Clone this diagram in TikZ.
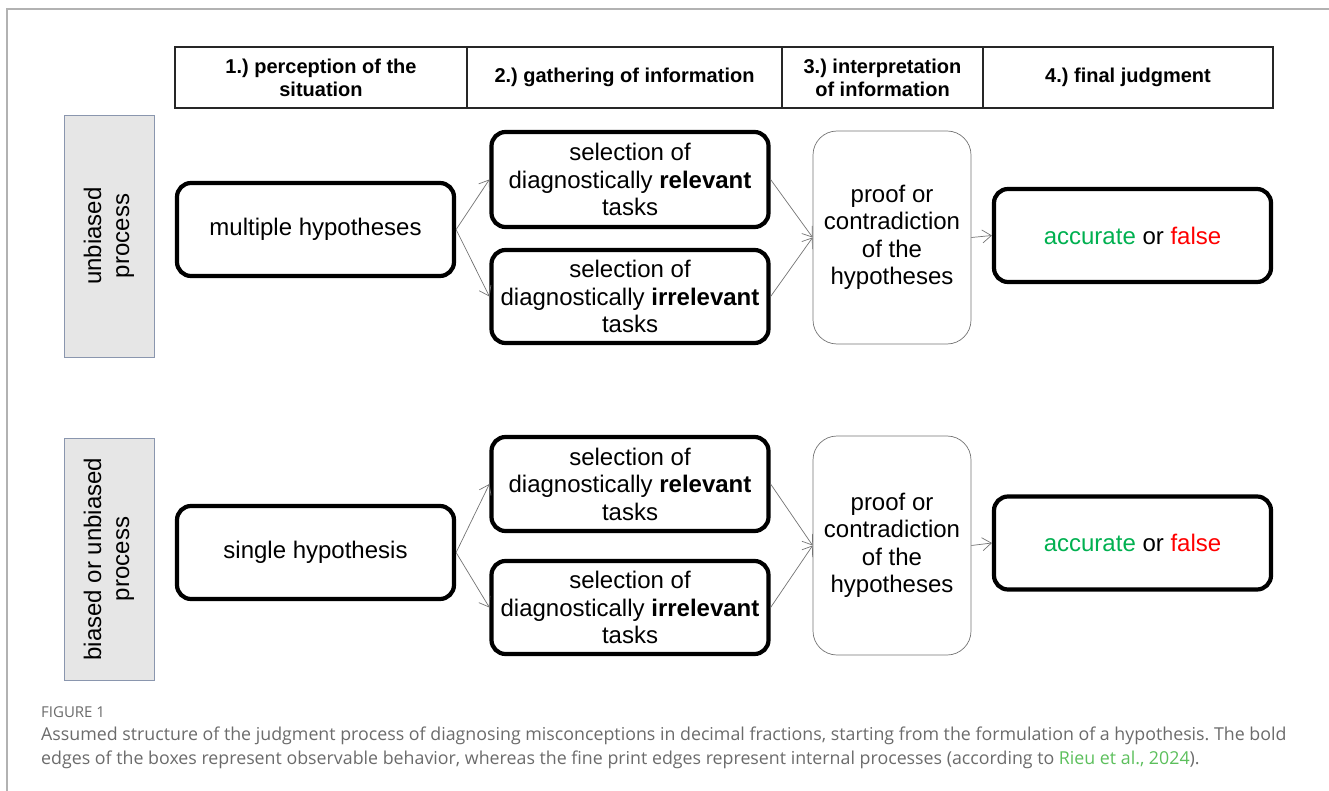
\documentclass[tikz,border=0pt]{standalone}
\usepackage{fontspec}
\setmainfont{Liberation Sans}
\newfontfamily\capfont{Open Sans}
\usepackage{xcolor}
\usetikzlibrary{arrows.meta,positioning}
\definecolor{okgreen}{HTML}{00B050}
\definecolor{badred}{HTML}{FF0000}
\definecolor{capgray}{HTML}{6B6B6B}
\definecolor{linkgreen}{HTML}{5CBF5C}
\definecolor{labfill}{HTML}{E6E6E6}
\definecolor{labedge}{HTML}{8A96AE}
\newcommand{\verdict}{{\color{okgreen}accurate} or {\color{badred}false}}
\frenchspacing

\begin{document}
\begin{tikzpicture}[x=1pt,y=-1pt,>={Straight Barb[length=9pt,width=13pt]},
  hdr/.style={draw=black!85,line width=1.6pt,minimum height=61pt,align=center,font=\fontsize{20}{23}\selectfont\bfseries},
  rowlab/.style={draw=labedge,fill=labfill,line width=0.7pt,rotate=90,minimum width=242pt,minimum height=90pt,align=center,font=\fontsize{24}{28}\selectfont},
  obs/.style={draw,line width=4.2pt,rounded corners=14pt,minimum width=277pt,minimum height=93pt,align=center,font=\fontsize{24}{27.5}\selectfont},
  intl/.style={draw=black!55,line width=0.7pt,rounded corners=24pt,minimum width=158pt,align=center,font=\fontsize{24}{27.5}\selectfont},
  arr/.style={->,draw=black!55,line width=0.7pt}]
\useasboundingbox (0,0) rectangle (1329,791);
\draw[black!30,line width=1.2pt] (1329,9) -- (7,9) -- (7,791);
% phases
\node[hdr,minimum width=292pt] (ph1) at (321,77.5) {1.) perception of the\\situation};
\node[hdr,minimum width=315pt] (ph2) at (624.5,77.5) {2.) gathering of information};
\node[hdr,minimum width=201pt] (ph3) at (882.5,77.5) {3.) interpretation\\of information};
\node[hdr,minimum width=290pt] (ph4) at (1128,77.5) {4.) final judgment};
% unbiased row
\node[rowlab] (lab1) at (109,236) {unbiased\\process};
\node[obs] (multi) at (315.5,229.5) {multiple hypotheses};
\node[obs,minimum height=95pt] (rel1) at (630,179.5) {selection of\\diagnostically \textbf{relevant}\\tasks};
\node[obs] (irr1) at (630,296.5) {selection of\\diagnostically \textbf{irrelevant}\\tasks};
\node[intl,minimum height=213pt] (proof1) at (892,237.5) {proof or\\contradiction\\of the\\hypotheses};
\node[obs] (fin1) at (1132.5,235.5) {\verdict};
\draw[arr] (multi.east) -- (rel1.west);
\draw[arr] (multi.east) -- (irr1.west);
\draw[arr] (rel1.east) -- (proof1.west);
\draw[arr] (irr1.east) -- (proof1.west);
\draw[arr] (proof1.east) -- (fin1.west);
% biased or unbiased row
\node[rowlab] (lab2) at (109,559) {biased or unbiased\\process};
\node[obs] (single) at (315.5,552.5) {single hypothesis};
\node[obs,minimum height=94pt] (rel2) at (630,484) {selection of\\diagnostically \textbf{relevant}\\tasks};
\node[obs] (irr2) at (630,607.5) {selection of\\diagnostically \textbf{irrelevant}\\tasks};
\node[intl,minimum height=219pt] (proof2) at (892,545.5) {proof or\\contradiction\\of the\\hypotheses};
\node[obs] (fin2) at (1132.5,543) {\verdict};
\draw[arr] (single.east) -- (rel2.west);
\draw[arr] (single.east) -- (irr2.west);
\draw[arr] (rel2.east) -- (proof2.west);
\draw[arr] (irr2.east) -- (proof2.west);
\draw[arr] (proof2.east) -- (fin2.west);
% caption
\node[anchor=base west,inner sep=0pt,text=capgray,font=\capfont\fontsize{15}{18}\selectfont] (fig) at (41,717) {FIGURE 1};
\node[anchor=base west,inner sep=0pt,text=capgray,align=left,font=\capfont\fontsize{17.8}{24}\selectfont] (cap) at (41,764)
  {Assumed structure of the judgment process of diagnosing misconceptions in decimal fractions, starting from the formulation of a hypothesis. The bold\\
   edges of the boxes represent observable behavior, whereas the fine print edges represent internal processes (according to {\color{linkgreen}Rieu et al., 2024}).};
\end{tikzpicture}
\end{document}
